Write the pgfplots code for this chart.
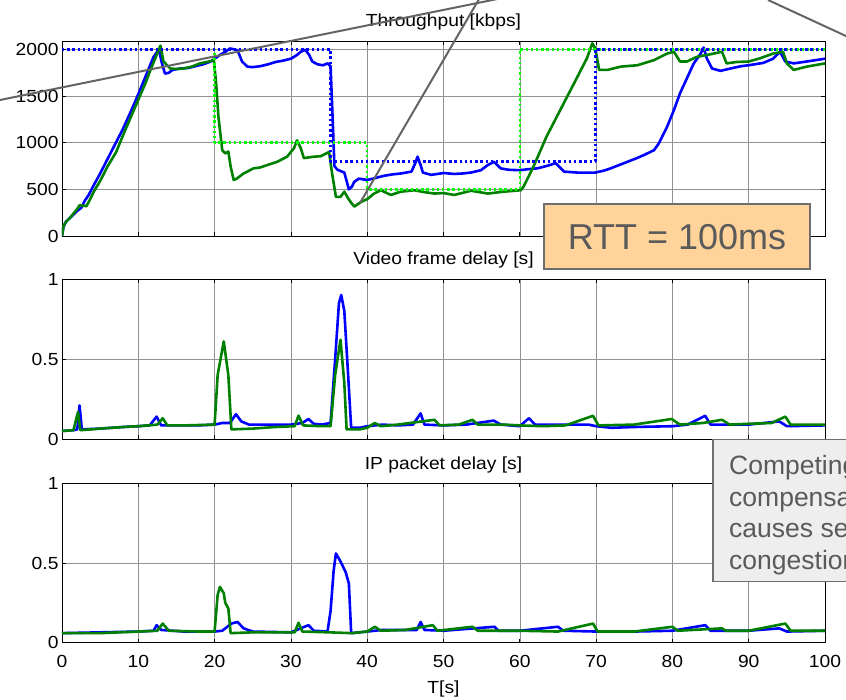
\documentclass[border=0pt]{standalone}
\usepackage{fontspec}
\setmainfont{Liberation Sans}
\newfontfamily\plotfont{Liberation Sans}[FakeStretch=1.1]
\usepackage{pgfplots}
\pgfplotsset{compat=1.18}
\definecolor{mblue}{RGB}{0,0,255}
\definecolor{mgreen}{RGB}{0,128,0}
\definecolor{mlime}{RGB}{0,255,0}
\definecolor{peach}{RGB}{255,211,154}
\definecolor{boxgray}{RGB}{238,238,238}
\definecolor{edgegray}{RGB}{110,110,110}
\definecolor{txtgray}{RGB}{90,90,90}
\definecolor{gridgray}{RGB}{145,145,145}
\definecolor{anngray}{RGB}{100,100,100}
\pgfplotsset{
  mstyle/.style={
    width=763pt, scale only axis, xmin=0, xmax=100,
    xtick={0,10,...,100},
    grid=major, grid style={gridgray, line width=0.6pt},
    tick align=inside, major tick length=4pt,
    tick style={black, line width=0.7pt},
    axis line style={black, line width=0.9pt},
    tick label style={font=\plotfont\fontsize{17.5}{20}\selectfont},
    every axis title shift=0pt,
    title style={font=\plotfont\fontsize{17.5}{20}\selectfont, at={(0.5,1)}, anchor=base, yshift=14pt},
    label style={font=\plotfont\fontsize{17.5}{20}\selectfont},
    /pgf/number format/assume math mode=true,
    /pgf/number format/1000 sep={},
    scaled y ticks=false,
    every axis plot/.append style={line join=round},
  },
  bl/.style={mblue, line width=2.6pt},
  gr/.style={mgreen, line width=2.6pt},
}
\begin{document}
\begin{tikzpicture}
\path[use as bounding box] (0pt,0pt) rectangle (846pt,-700pt);
\clip (0pt,0pt) rectangle (846pt,-700pt);

% ---------- Throughput ----------
\begin{axis}[mstyle, at={(62pt,-41pt)}, anchor=north west, height=195pt,
  ymin=0, ymax=2090, ytick={0,500,1000,1500,2000}, xticklabels={},
  title={Throughput [kbps]}]
\addplot[bl] coordinates {(0,0)(0.2,100)(0.5,150)(1,190)(1.5,230)(2,270)(2.5,300)(3,380)(3.5,440)(4,520)(5,670)(6,830)(7,990)(8,1150)(9,1330)(10,1520)(11,1720)(11.5,1820)(12,1920)(12.7,2000)(13.1,1850)(13.5,1740)(14,1750)(14.5,1780)(15.5,1795)(16.5,1800)(17.5,1820)(18.5,1840)(19.5,1870)(20,1900)(20.7,1940)(21.5,1980)(22,2010)(22.6,2000)(23,1990)(23.6,1870)(24.3,1815)(25,1810)(26,1820)(27,1840)(28,1865)(29,1880)(30,1900)(30.8,1940)(31.3,1975)(31.9,1995)(32.4,1940)(32.8,1870)(33.5,1840)(34.2,1830)(34.8,1850)(35.2,1820)(35.5,1200)(35.7,750)(36.1,710)(37,680)(37.6,500)(38,530)(38.3,580)(38.9,615)(40,600)(41,620)(42.2,645)(43.3,660)(44.4,670)(45.8,690)(46.3,780)(46.6,850)(47,760)(47.3,680)(48.4,655)(50,675)(51.4,665)(52.5,670)(53.6,680)(54.9,705)(55.8,760)(56.6,795)(57.5,725)(58.5,710)(60,705)(61,715)(62.3,725)(63.5,750)(64.7,780)(65.8,690)(67.5,680)(69.9,680)(71,700)(71.9,725)(73,760)(74.1,795)(75.2,830)(76.2,865)(77.6,920)(78.2,990)(79.3,1170)(80.2,1350)(81,1530)(81.9,1690)(82.8,1850)(83.7,1955)(84.1,2020)(84.5,1905)(85.2,1795)(86.3,1770)(87.6,1795)(89,1820)(90,1830)(91.9,1855)(93.2,1900)(94.1,1975)(94.8,1870)(95.9,1850)(97.6,1870)(100,1900)};
\addplot[gr] coordinates {(0,0)(0.2,110)(0.5,150)(1,190)(1.5,240)(2,290)(2.3,330)(3.2,320)(3.6,380)(4.2,480)(5,590)(6,750)(7.1,900)(8,1080)(9,1270)(10,1460)(11,1650)(11.5,1760)(12.4,1940)(12.9,2040)(13.3,1870)(14.2,1795)(15,1790)(15.9,1795)(17,1815)(18.1,1850)(19,1865)(19.9,1885)(20.2,1640)(20.5,1280)(21,920)(21.4,885)(21.8,905)(22.1,745)(22.5,600)(22.9,615)(23.8,670)(25.1,725)(26,735)(26.9,760)(28.2,795)(29.5,850)(30.4,940)(30.8,1025)(31.3,940)(31.7,835)(33,850)(33.9,855)(35,900)(35.4,670)(35.9,420)(36.5,420)(37,475)(37.6,390)(38.3,315)(39.2,365)(40,395)(40.9,455)(41.8,490)(43.1,440)(44.4,475)(46.2,490)(47.5,470)(48.8,455)(50,460)(51.4,440)(53.6,485)(55.8,455)(57.9,475)(60.1,490)(60.5,530)(61.8,745)(63.5,1065)(65.3,1350)(67.1,1635)(68.8,1905)(69.5,2065)(69.9,2010)(70.4,1780)(71.5,1780)(73.2,1815)(75.4,1830)(77.6,1885)(79.3,1955)(80.2,1975)(81,1870)(81.9,1870)(83.2,1920)(84.5,1940)(85.4,1955)(86.5,1975)(87.1,1850)(88.4,1865)(90,1870)(91.5,1905)(93.2,1955)(94.5,1975)(95,1850)(95.9,1780)(97.6,1815)(100,1850)};
\addplot[mlime, line width=2.4pt, dash pattern=on 2.4pt off 2.8pt] coordinates {(0,2000)(20,2000)(20,1000)(40,1000)(40,500)(60,500)(60,2000)(100,2000)};
\addplot[mblue, line width=2.4pt, dash pattern=on 2.4pt off 2.8pt] coordinates {(0,2000)(35.2,2000)(35.2,800)(69.9,800)(69.9,2000)(100,2000)};
\end{axis}

% ---------- Video frame delay ----------
\begin{axis}[mstyle, at={(62pt,-279pt)}, anchor=north west, height=160pt,
  ymin=0, ymax=1, ytick={0,0.5,1}, xticklabels={},
  title={Video frame delay [s]}]
\addplot[bl] coordinates {(0,0.05)(1.5,0.055)(2.0,0.06)(2.3,0.21)(2.6,0.06)(5,0.065)(8,0.075)(10,0.08)(11.5,0.085)(12.4,0.14)(13,0.085)(15,0.085)(18,0.085)(20,0.09)(21,0.1)(22,0.1)(22.8,0.155)(23.5,0.11)(24.5,0.09)(28,0.09)(30,0.09)(31.5,0.1)(32.3,0.125)(33,0.095)(34,0.09)(35.2,0.1)(35.8,0.5)(36.3,0.85)(36.6,0.9)(37,0.8)(37.5,0.4)(37.9,0.07)(39,0.07)(40,0.08)(42,0.09)(44,0.085)(46,0.09)(47,0.16)(47.5,0.09)(50,0.085)(53,0.09)(56.6,0.115)(57.5,0.09)(60,0.08)(61.2,0.13)(62,0.09)(65,0.09)(69,0.09)(70,0.08)(72,0.07)(75,0.075)(80,0.08)(82,0.09)(84.3,0.145)(85,0.09)(90,0.09)(94,0.11)(95,0.08)(100,0.085)};
\addplot[gr] coordinates {(0,0.05)(1.5,0.055)(2.1,0.17)(2.4,0.055)(5,0.065)(8,0.075)(10,0.08)(12.5,0.09)(13.2,0.13)(13.8,0.085)(16,0.085)(20,0.09)(20.4,0.4)(21.2,0.61)(21.8,0.4)(22.2,0.06)(25,0.065)(28,0.075)(30.5,0.08)(31,0.146)(31.6,0.085)(34,0.08)(35.2,0.08)(35.8,0.4)(36.5,0.62)(37,0.35)(37.3,0.06)(39,0.06)(40,0.07)(41,0.1)(41.8,0.08)(44,0.09)(48.8,0.12)(49.5,0.085)(52,0.09)(53.8,0.12)(54.5,0.09)(58,0.09)(60,0.085)(63,0.08)(66,0.085)(69.6,0.145)(70.3,0.085)(75,0.09)(79.9,0.125)(81,0.09)(84,0.1)(86.5,0.12)(87.5,0.09)(90,0.095)(93,0.1)(94.8,0.14)(95.5,0.09)(100,0.09)};
\end{axis}

% ---------- IP packet delay ----------
\begin{axis}[mstyle, at={(62pt,-483.3pt)}, anchor=north west, height=159.4pt,
  ymin=0, ymax=1, ytick={0,0.5,1},
  xticklabel style={anchor=base, yshift=-24.6pt},
  xlabel={T[s]}, xlabel style={at={(axis description cs:0.5,0)}, anchor=base, yshift=-50.5pt},
  title={IP packet delay [s]}]
\addplot[bl] coordinates {(0,0.06)(5,0.065)(10,0.07)(12,0.075)(12.4,0.11)(13,0.08)(16,0.07)(20,0.07)(21,0.075)(22.2,0.12)(23,0.13)(23.8,0.09)(25,0.07)(30,0.065)(32.3,0.11)(33,0.075)(34.8,0.07)(35.2,0.2)(35.6,0.45)(35.9,0.56)(36.5,0.51)(37.2,0.44)(37.6,0.37)(37.9,0.06)(40,0.07)(42,0.08)(46.5,0.08)(47,0.13)(47.5,0.08)(50,0.075)(56.7,0.1)(57.2,0.075)(60,0.075)(65,0.1)(65.7,0.075)(70,0.07)(75,0.07)(80,0.075)(84.3,0.11)(85,0.075)(90,0.075)(94,0.09)(95,0.07)(100,0.075)};
\addplot[gr] coordinates {(0,0.06)(5,0.06)(10,0.07)(12.5,0.075)(13.2,0.12)(14,0.075)(18,0.07)(20,0.07)(20.4,0.3)(20.7,0.35)(21.2,0.31)(21.4,0.25)(21.8,0.215)(22.1,0.06)(25,0.065)(30.5,0.065)(31,0.125)(31.5,0.07)(35,0.065)(38,0.06)(40,0.07)(41,0.1)(41.8,0.075)(45,0.08)(48.6,0.11)(49.2,0.075)(53.8,0.1)(54.5,0.075)(60,0.075)(65,0.07)(69.6,0.12)(70.2,0.07)(75,0.07)(80,0.1)(80.7,0.075)(86.5,0.09)(87,0.075)(90,0.075)(94.8,0.12)(95.5,0.075)(100,0.075)};
\end{axis}

% ---------- slide annotations ----------
\draw[anngray, line width=2pt] (0pt,-100pt) -- (520pt,5.6pt);
\draw[anngray, line width=2pt] (360pt,-203pt) -- (482pt,6pt);
\draw[anngray, line width=2pt] (768pt,0pt) -- (900pt,-61pt);
\draw[edgegray, line width=1.5pt, fill=peach] (544pt,-204pt) rectangle (810pt,-269pt);
\node[anchor=base, inner sep=0pt, text=txtgray, font=\fontsize{36}{40}\selectfont] at (677pt,-250pt) {RTT = 100ms};
\draw[edgegray, line width=1.5pt, fill=boxgray] (713pt,-439.3pt) rectangle (880pt,-581.7pt);
\begin{scope}[every node/.style={anchor=base west, inner sep=0pt, text=txtgray, font=\fontsize{26.5}{30}\selectfont}]
\node at (729pt,-474.5pt) {Competing flows};
\node at (729pt,-506.2pt) {compensate};
\node at (729pt,-537.9pt) {causes severe};
\node at (729pt,-569.6pt) {congestion};
\end{scope}
\end{tikzpicture}
\end{document}
